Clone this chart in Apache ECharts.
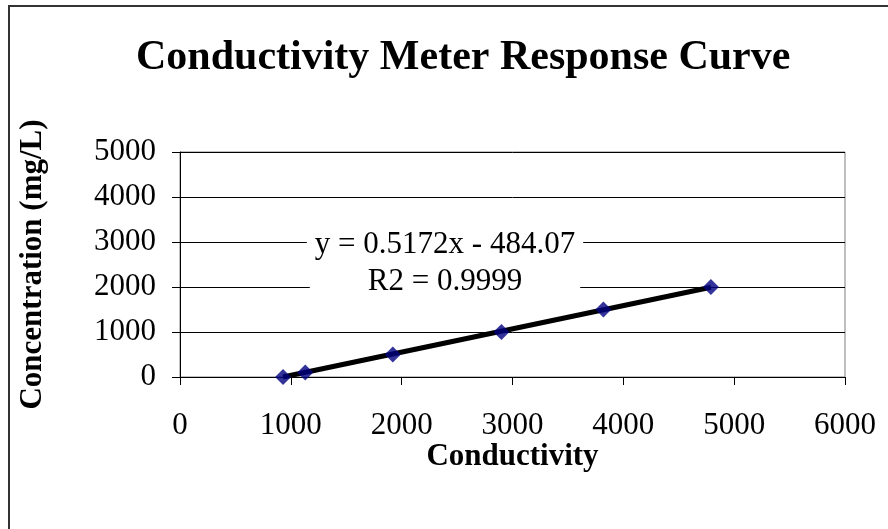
<!DOCTYPE html>
<html>
<head>
<meta charset="utf-8">
<script src="https://cdn.jsdelivr.net/npm/echarts@6/dist/echarts.min.js"></script>
<style>
  html, body { margin: 0; padding: 0; background: #fff; }
  #chart { width: 888px; height: 529px; }
</style>
</head>
<body>
<div id="chart"></div>
<script>
// measured points: conductivity vs concentration (mg/L)
const conductivity = [930, 1130, 1920, 2900, 3820, 4790];
const concentration = [0, 100, 500, 1000, 1500, 2000];

// trendline endpoints
const trendX = [930, 4790];
const trendY = [0, 1993];

const equationText = "y = 0.5172x - 484.07";
const r2Text = "R2 = 0.9999";

const serif = "Liberation Serif, Times New Roman, serif";

const chart = echarts.init(document.getElementById("chart"));

chart.setOption({
  animation: false,
  title: {
    text: "Conductivity Meter Response Curve",
    left: 131,
    top: 32,
    textStyle: { fontFamily: serif, fontSize: 42, fontWeight: "bold", color: "#000" }
  },
  grid: { left: 180, right: 43, top: 152, bottom: 152, show: true, borderColor: "#808080", borderWidth: 1 },
  xAxis: {
    type: "value",
    min: 0,
    max: 6000,
    interval: 1000,
    name: "Conductivity",
    nameLocation: "middle",
    nameGap: 62,
    nameTextStyle: { fontFamily: serif, fontSize: 31, fontWeight: "bold", color: "#000" },
    axisLine: { onZero: false, lineStyle: { color: "#000", width: 1 } },
    axisTick: { show: true, length: 8, lineStyle: { color: "#000" } },
    axisLabel: { fontFamily: serif, fontSize: 31, color: "#000", margin: 33, formatter: (v) => String(v) },
    splitLine: { show: false }
  },
  yAxis: {
    type: "value",
    min: 0,
    max: 5000,
    interval: 1000,
    name: "Concentration (mg/L)",
    nameLocation: "middle",
    nameGap: 132,
    nameTextStyle: { fontFamily: serif, fontSize: 31, fontWeight: "bold", color: "#000" },
    axisLine: { show: true, lineStyle: { color: "#000", width: 1 } },
    axisTick: { show: true, length: 8, lineStyle: { color: "#000" } },
    axisLabel: { fontFamily: serif, fontSize: 31, color: "#000", margin: 24, formatter: (v) => String(v) },
    splitLine: { show: true, lineStyle: { color: "#000", width: 1 } }
  },
  series: [
    {
      type: "line",
      data: trendX.map((x, i) => [x, trendY[i]]),
      showSymbol: false,
      lineStyle: { color: "#000", width: 5 },
      z: 2
    },
    {
      type: "scatter",
      data: conductivity.map((x, i) => [x, concentration[i]]),
      symbol: "diamond",
      symbolSize: 16,
      itemStyle: { color: "#000080" },
      z: 3
    }
  ],
  graphic: [
    {
      type: "rect",
      shape: { x: 9, y: 6, width: 1000, height: 1000 },
      style: { fill: "none", stroke: "#333", lineWidth: 2 },
      silent: true
    },
    {
      type: "text",
      x: 445,
      y: 245,
      style: {
        text: equationText,
        fontFamily: serif,
        fontSize: 31,
        fill: "#000",
        align: "center",
        verticalAlign: "middle",
        backgroundColor: "#fff",
        padding: [0, 8]
      },
      z: 10
    },
    {
      type: "text",
      x: 445,
      y: 282,
      style: {
        text: r2Text,
        fontFamily: serif,
        fontSize: 31,
        fill: "#000",
        align: "center",
        verticalAlign: "middle",
        backgroundColor: "#fff",
        padding: [0, 58]
      },
      z: 10
    }
  ]
});
</script>
</body>
</html>
